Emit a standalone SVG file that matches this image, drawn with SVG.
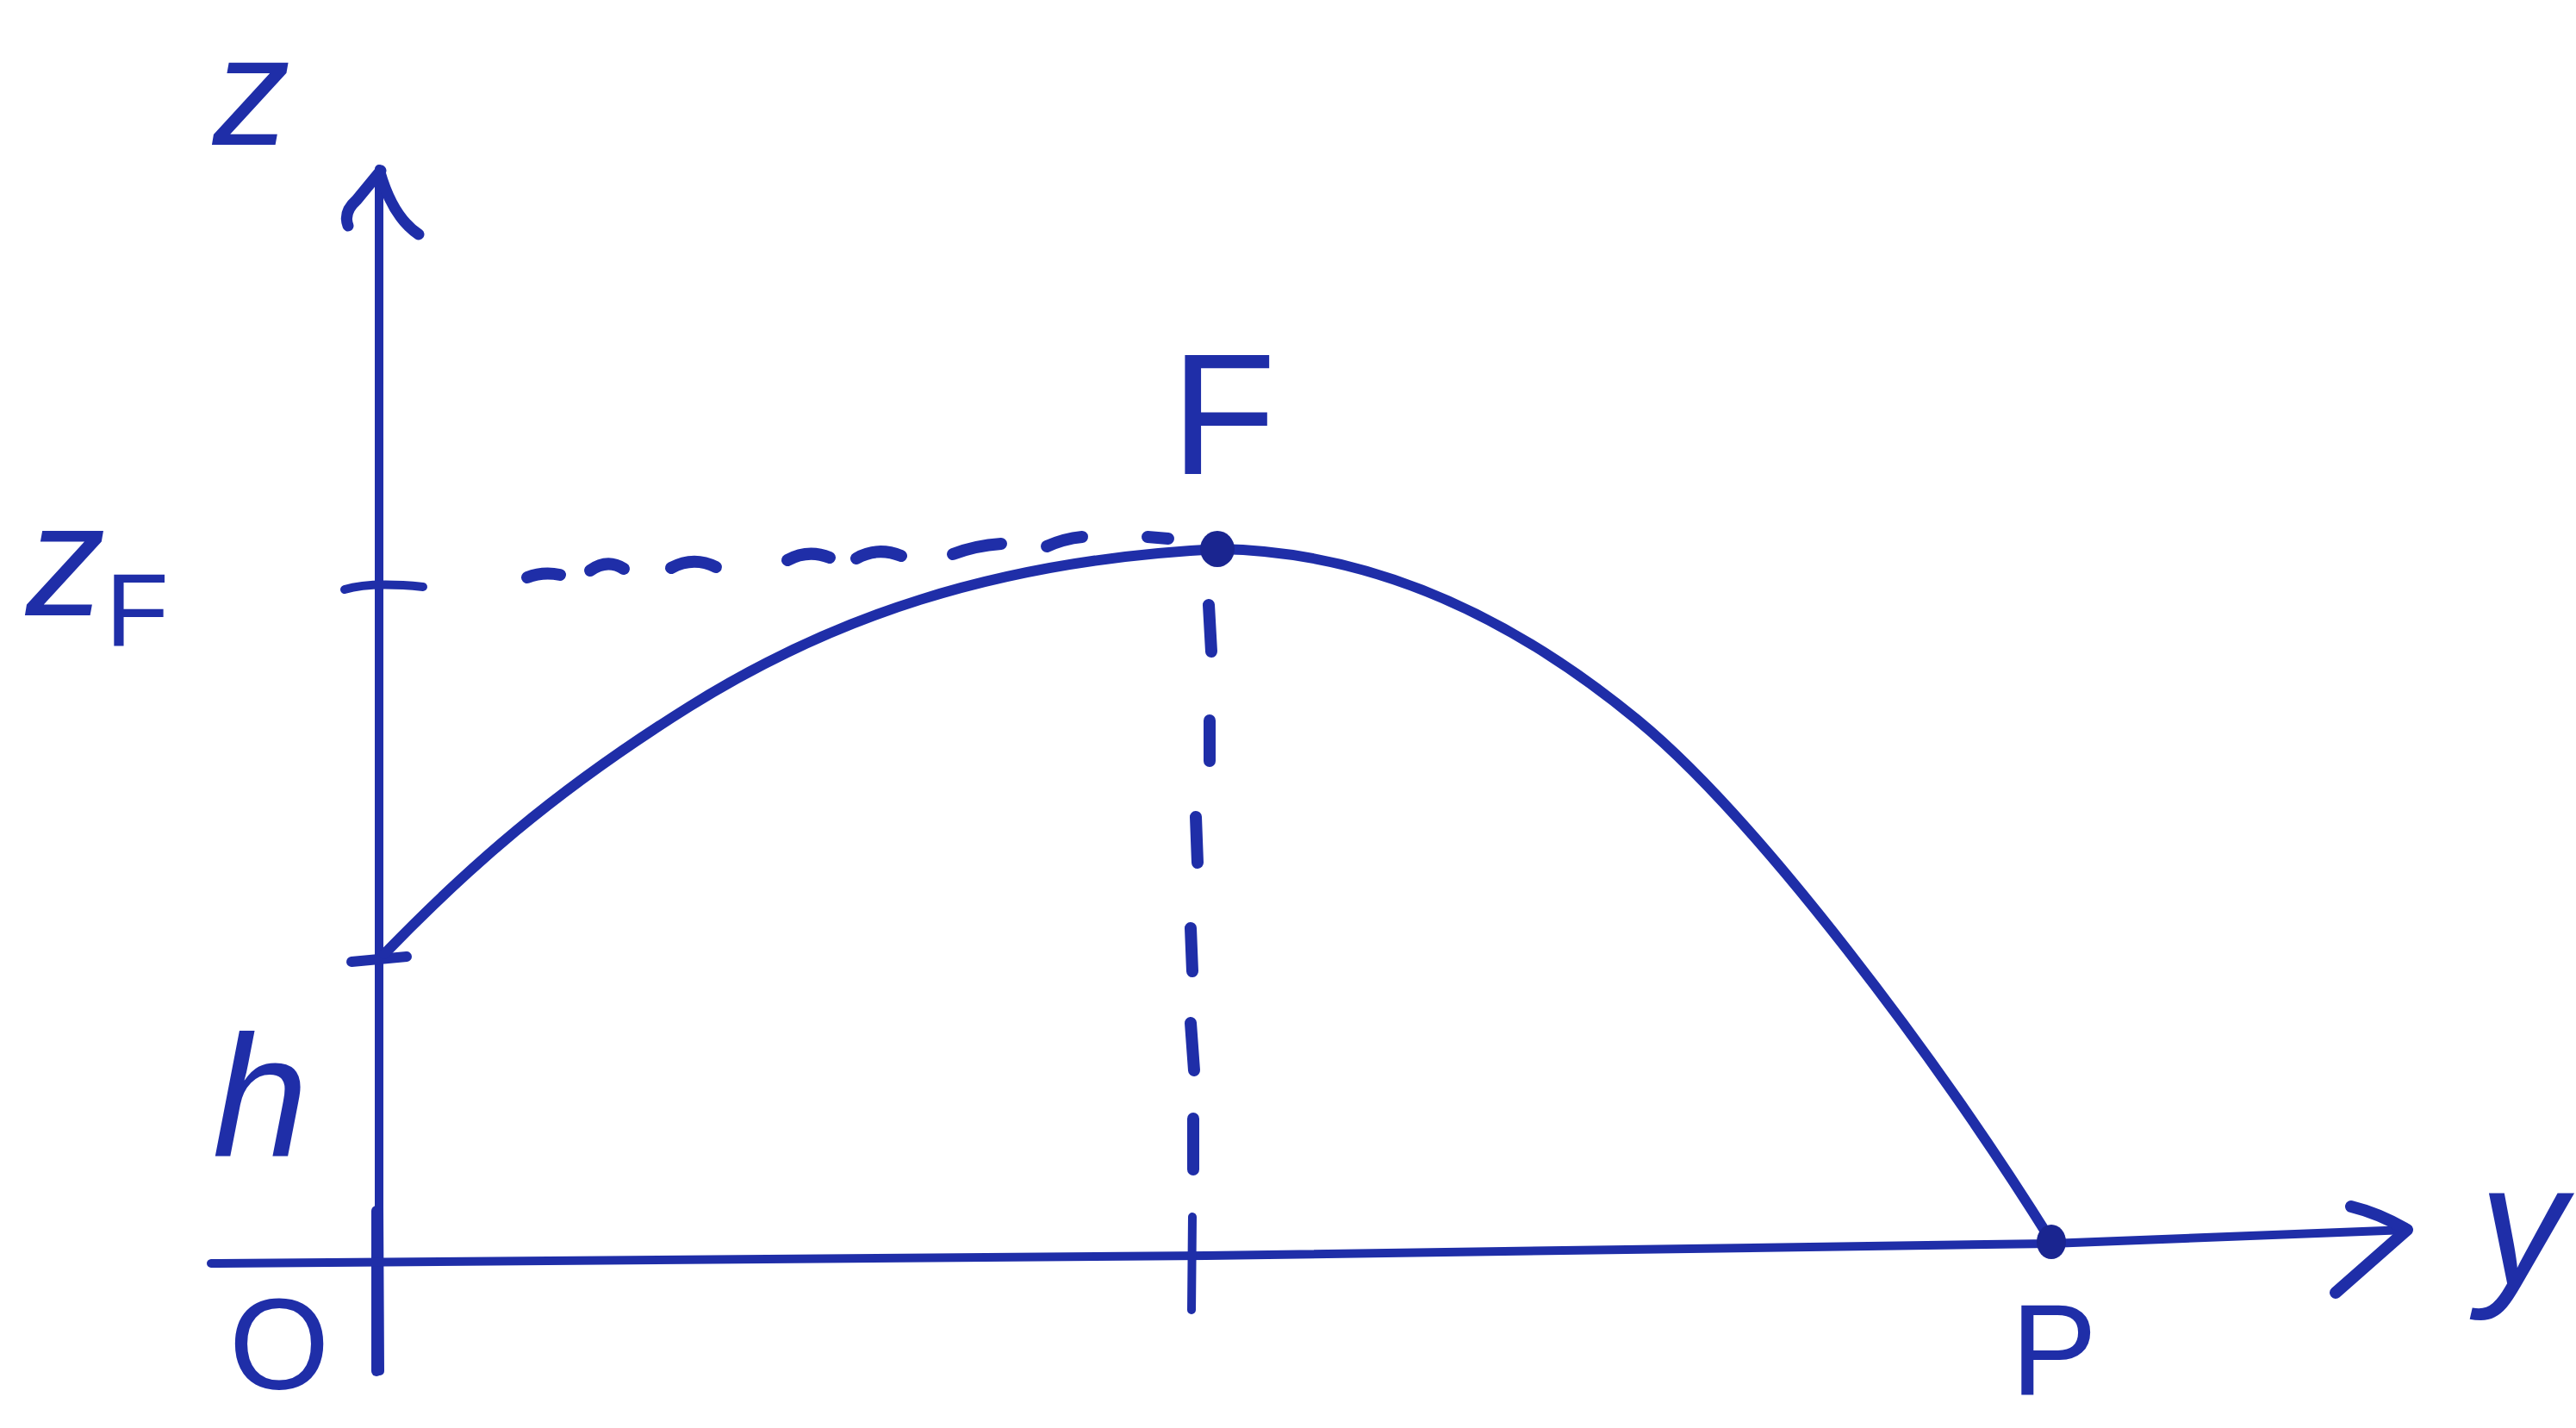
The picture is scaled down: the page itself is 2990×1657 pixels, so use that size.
<svg xmlns="http://www.w3.org/2000/svg" width="2990" height="1657" viewBox="0 0 2990 1657">
<style>
.ink{fill:none;stroke:#1f2ea8;stroke-linecap:round;stroke-linejoin:round}
.ax{stroke-width:10}
.cv{stroke-width:12}
.ds{stroke-width:14}
.dot{fill:#1a2590}
.lbl{fill:#1f2ea8;font-family:"Liberation Sans","DejaVu Sans",sans-serif}
.it{font-style:italic}
</style>
<rect width="2990" height="1657" fill="#ffffff"/>
<g id="connectors">
  <g id="z-axis">
    <path class="ink ax" d="M 441 1591 L 440 1400 L 440 196"/>
    <path class="ink" stroke-width="12" d="M 437 1405 L 437 1591"/>
    <path class="ink" stroke-width="13" d="M 404 262 Q 398 246 414 232 L 442 198 M 441 200 Q 456 252 486 272"/>
    <path class="ink ax" d="M 400 684 Q 430 675 491 681"/>
    <path class="ink" stroke-width="12" d="M 408 1116 L 472 1110"/>
  </g>
  <g id="y-axis">
    <path class="ink ax" d="M 245 1466 L 1400 1457 L 2380 1443 L 2794 1427"/>
    <path class="ink" stroke-width="14" d="M 2729 1400 Q 2762 1408 2794 1427 L 2711 1500"/>
    <path class="ink ax" d="M 1384 1412 L 1383 1520"/>
  </g>
  <g id="trajectory">
    <path class="ink cv" d="M 446 1107 C 540 1010, 640 920, 800 820 C 960 720, 1150 650, 1415 637 C 1600 640, 1760 720, 1900 835 C 2040 950, 2250 1230, 2381 1440"/>
  </g>
  <g id="dashes-horizontal">
    <path class="ink ds" d="M 612 670 Q 630 663 650 667"/>
    <path class="ink ds" d="M 685 662 Q 705 648 724 660"/>
    <path class="ink ds" d="M 779 659 Q 805 645 831 658"/>
    <path class="ink ds" d="M 914 650 Q 938 637 963 647"/>
    <path class="ink ds" d="M 994 648 Q 1018 634 1046 645"/>
    <path class="ink ds" d="M 1106 643 Q 1132 633 1162 631"/>
    <path class="ink ds" d="M 1215 634 Q 1235 625 1256 623"/>
    <path class="ink ds" d="M 1332 623 L 1356 625"/>
  </g>
  <g id="dashes-vertical">
    <path class="ink ds" d="M 1403 702 L 1406 756"/>
    <path class="ink ds" d="M 1404 836 L 1404 883"/>
    <path class="ink ds" d="M 1388 948 L 1390 1001"/>
    <path class="ink ds" d="M 1382 1077 L 1384 1127"/>
    <path class="ink ds" d="M 1382 1187 L 1386 1242"/>
    <path class="ink ds" d="M 1385 1298 L 1385 1357"/>
  </g>
</g>
<g id="node-F">
  <ellipse class="dot" cx="1413" cy="637" rx="20" ry="21"/>
  <text class="lbl" x="1420" y="550" font-size="200" text-anchor="middle">F</text>
</g>
<g id="node-P">
  <ellipse class="dot" cx="2381" cy="1441" rx="17" ry="20"/>
  <text class="lbl" x="2384" y="1618" font-size="150" text-anchor="middle">P</text>
</g>
<g id="node-O">
  <text class="lbl" x="324" y="1612" font-size="150" text-anchor="middle">O</text>
</g>
<g id="label-z">
  <text class="lbl it" x="292" y="168" font-size="180" text-anchor="middle">z</text>
</g>
<g id="label-zF">
  <text class="lbl it" x="30" y="714" font-size="185">z<tspan font-size="120" font-style="normal" dy="36">F</tspan></text>
</g>
<g id="label-h">
  <text class="lbl it" x="302" y="1341" font-size="200" text-anchor="middle">h</text>
</g>
<g id="label-y">
  <text class="lbl it" x="2928" y="1490" font-size="200" text-anchor="middle">y</text>
</g>
</svg>
